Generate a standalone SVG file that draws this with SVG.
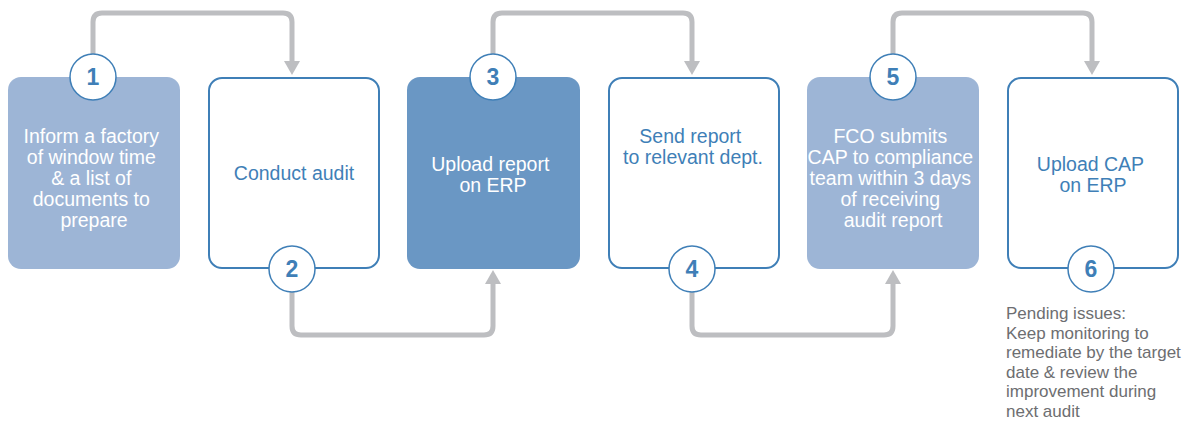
<svg xmlns="http://www.w3.org/2000/svg" width="1187" height="424" viewBox="0 0 1187 424">
  <style>
    .box-light { fill: #9db5d6; }
    .box-dark { fill: #6a97c4; }
    .box-open { fill: #ffffff; stroke: #3f7fb7; stroke-width: 2; }
    .lbl { font-family: "Liberation Sans", Arial, sans-serif; font-size: 19.5px; text-anchor: middle; }
    .lbl-w { fill: #ffffff; }
    .lbl-b { fill: #3f7fb7; }
    .badge { fill: #ffffff; stroke: #3f7fb7; stroke-width: 1.5; }
    .num { font-family: "Liberation Sans", Arial, sans-serif; font-size: 23px; font-weight: bold; fill: #3f7fb7; text-anchor: middle; }
    .link { fill: none; stroke: #bdbec1; stroke-width: 5; stroke-linejoin: round; }
    .head { fill: #bdbec1; }
    .note { font-family: "Liberation Sans", Arial, sans-serif; font-size: 17px; fill: #6d6e71; }
  </style>

  <!-- connectors -->
  <g id="connectors">
    <path class="link" d="M93 54 V22 Q93 13 102 13 H283 Q292 13 292 22 V62"/>
    <polygon class="head" points="284,61 300,61 292,75"/>
    <path class="link" d="M292 292 V326 Q292 335 301 335 H484 Q493 335 493 326 V283"/>
    <polygon class="head" points="485,284 501,284 493,270"/>
    <path class="link" d="M493 54 V22 Q493 13 502 13 H683 Q692 13 692 22 V62"/>
    <polygon class="head" points="684,61 700,61 692,75"/>
    <path class="link" d="M692 292 V326 Q692 335 701 335 H884 Q893 335 893 326 V283"/>
    <polygon class="head" points="885,284 901,284 893,270"/>
    <path class="link" d="M893 54 V22 Q893 13 902 13 H1083 Q1092 13 1092 22 V62"/>
    <polygon class="head" points="1084,61 1100,61 1092,75"/>
  </g>

  <!-- step 1 -->
  <g id="step1">
    <rect class="box-light" x="8" y="77" width="172" height="192" rx="13"/>
    <text class="lbl lbl-w">
      <tspan x="94" y="143">Inform a factory</tspan>
      <tspan x="94" y="164">of window time</tspan>
      <tspan x="94" y="185">&amp; a list of</tspan>
      <tspan x="94" y="206">documents to</tspan>
      <tspan x="94" y="227">prepare</tspan>
    </text>
    <circle class="badge" cx="93" cy="77" r="23"/>
    <text class="num" x="93" y="85">1</text>
  </g>

  <!-- step 2 -->
  <g id="step2">
    <rect class="box-open" x="209" y="78" width="170" height="190" rx="13"/>
    <text class="lbl lbl-b" x="294" y="180">Conduct audit</text>
    <circle class="badge" cx="292" cy="269" r="23"/>
    <text class="num" x="292" y="277">2</text>
  </g>

  <!-- step 3 -->
  <g id="step3">
    <rect class="box-dark" x="407" y="77" width="173" height="192" rx="13"/>
    <text class="lbl lbl-w">
      <tspan x="493" y="171">Upload report</tspan>
      <tspan x="493" y="192">on ERP</tspan>
    </text>
    <circle class="badge" cx="493" cy="77" r="23"/>
    <text class="num" x="493" y="85">3</text>
  </g>

  <!-- step 4 -->
  <g id="step4">
    <rect class="box-open" x="609" y="78" width="170" height="190" rx="13"/>
    <text class="lbl lbl-b">
      <tspan x="693" y="143">Send report</tspan>
      <tspan x="693" y="164">to relevant dept.</tspan>
    </text>
    <circle class="badge" cx="692" cy="269" r="23"/>
    <text class="num" x="692" y="277">4</text>
  </g>

  <!-- step 5 -->
  <g id="step5">
    <rect class="box-light" x="807" y="77" width="172" height="192" rx="13"/>
    <text class="lbl lbl-w">
      <tspan x="893" y="143">FCO submits</tspan>
      <tspan x="893" y="164">CAP to compliance</tspan>
      <tspan x="893" y="185">team within 3 days</tspan>
      <tspan x="893" y="206">of receiving</tspan>
      <tspan x="893" y="227">audit report</tspan>
    </text>
    <circle class="badge" cx="893" cy="77" r="23"/>
    <text class="num" x="893" y="85">5</text>
  </g>

  <!-- step 6 -->
  <g id="step6">
    <rect class="box-open" x="1008" y="78" width="170" height="190" rx="13"/>
    <text class="lbl lbl-b">
      <tspan x="1093" y="171">Upload CAP</tspan>
      <tspan x="1093" y="192">on ERP</tspan>
    </text>
    <circle class="badge" cx="1091" cy="269" r="23"/>
    <text class="num" x="1091" y="277">6</text>
  </g>

  <!-- follow-up note -->
  <g id="note">
    <text class="note">
      <tspan x="1006" y="319">Pending issues:</tspan>
      <tspan x="1006" y="338.5">Keep monitoring to</tspan>
      <tspan x="1006" y="358">remediate by the target</tspan>
      <tspan x="1006" y="377.5">date &amp; review the</tspan>
      <tspan x="1006" y="397">improvement during</tspan>
      <tspan x="1006" y="416.5">next audit</tspan>
    </text>
  </g>
</svg>
